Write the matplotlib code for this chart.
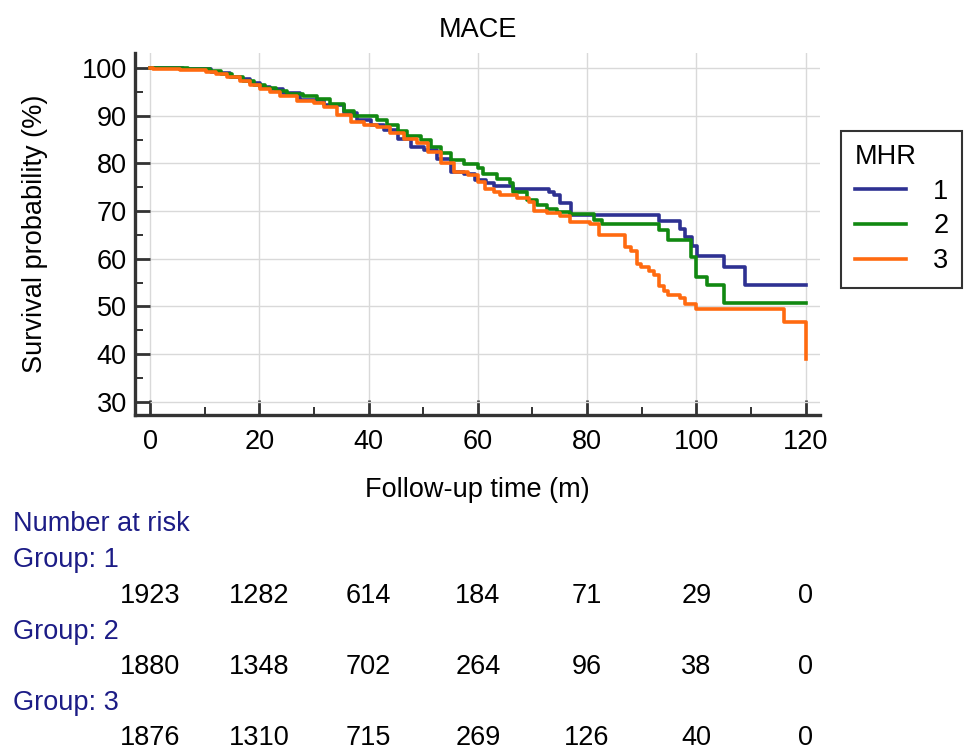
import numpy as np
import matplotlib
matplotlib.use("Agg")
import matplotlib.pyplot as plt
from matplotlib.ticker import MultipleLocator
from matplotlib.transforms import blended_transform_factory

plt.rcParams['font.family'] = ['Liberation Sans', 'DejaVu Sans']

# Kaplan-Meier steps (time in months, survival %)
t_g1 = [0, 6.0, 11.2, 12.8, 14.6, 16.4, 18.3, 20.1, 22.0, 24.4, 27.5, 31.8, 35.5, 37.9,
        40.4, 42.8, 45.3, 47.7, 50.2, 52.6, 55.1, 57.5, 59.5, 61.5, 63.0, 66.5, 73.0,
        74.0, 75.0, 77.1, 93.1, 97.1, 98.0, 99.3, 100.2, 105.1, 109.0, 120]
s_g1 = [100, 99.7, 99.2, 98.9, 98.2, 97.6, 96.8, 96.1, 95.5, 94.7, 93.4, 92.2, 90.5, 89.1,
        88.0, 87.0, 85.2, 83.5, 82.8, 81.0, 78.3, 77.8, 76.5, 75.8, 75.2, 74.7, 74.0,
        73.3, 71.7, 69.1, 68.0, 66.3, 64.6, 62.7, 60.6, 58.3, 54.6, 54.6]

t_g2 = [0, 7, 11, 13, 15, 17, 19, 21, 23, 25, 28, 30.5, 33.0, 35.5, 37.3, 41.6, 43.4,
        45.3, 47.1, 49.6, 51.4, 53.3, 55.1, 57.5, 60.0, 61.0, 63.5, 65.9, 66.5, 69.0,
        70.8, 72.7, 74.5, 76.9, 81.2, 82.8, 93.1, 94.9, 99.0, 99.9, 102.0, 105.1, 120]
s_g2 = [100, 99.7, 99.3, 98.8, 98.1, 97.3, 96.5, 95.8, 95.2, 94.6, 94.1, 93.6, 92.4, 91.0,
        89.9, 89.1, 88.0, 86.9, 85.7, 84.9, 83.5, 82.1, 80.7, 79.8, 79.0, 77.7, 76.8,
        75.8, 74.0, 72.3, 71.2, 70.5, 69.8, 69.4, 68.2, 67.2, 66.1, 64.0, 60.3, 56.1,
        54.6, 50.8, 50.8]

t_g3 = [0, 0.5, 5.4, 10.3, 12.1, 14.0, 16.4, 18.3, 20.1, 22.0, 23.8, 26.9, 30.0, 31.8,
        34.2, 36.7, 39.1, 41.6, 44.0, 46.5, 48.9, 50.8, 53.3, 55.7, 58.2, 60.0, 61.3,
        62.9, 64.1, 67.2, 69.3, 70.2, 72.7, 75.1, 76.9, 80.6, 82.1, 87.0, 88.0, 89.2,
        89.8, 91.3, 92.2, 93.1, 94.0, 94.9, 97.1, 98.0, 99.9, 116.1, 120, 120]
s_g3 = [100, 99.8, 99.6, 99.2, 98.7, 98.2, 97.3, 96.4, 95.5, 95.0, 94.1, 93.1, 92.7, 91.9,
        90.1, 88.7, 88.0, 87.6, 86.3, 85.2, 84.2, 82.4, 80.0, 78.3, 77.6, 76.2, 74.7,
        74.0, 73.3, 72.7, 71.9, 70.1, 69.6, 69.0, 67.7, 67.2, 64.9, 62.5, 61.7, 58.9,
        58.2, 57.5, 56.6, 54.3, 53.2, 52.5, 51.8, 50.6, 49.5, 46.7, 46.7, 39.0]

groups = ['1', '2', '3']
colors = ['#2E3192', '#118811', '#FF6A10']

risk_times = [0, 20, 40, 60, 80, 100, 120]
risk_g1 = [1923, 1282, 614, 184, 71, 29, 0]
risk_g2 = [1880, 1348, 702, 264, 96, 38, 0]
risk_g3 = [1876, 1310, 715, 269, 126, 40, 0]

fs = 19.5
fig = plt.figure(figsize=(9.65, 7.5), dpi=100)
ax = fig.add_axes([0.14, 0.447, 0.71, 0.482])

for t, s, c, g in zip([t_g1, t_g2, t_g3], [s_g1, s_g2, s_g3], colors, groups):
    ax.step(t, s, where='post', color=c, lw=2.6, label=g, zorder=3)

ax.set_xlim(-2.75, 122.7)
ax.set_ylim(27.3, 103.1)
ax.xaxis.set_major_locator(MultipleLocator(20))
ax.xaxis.set_minor_locator(MultipleLocator(10))
ax.yaxis.set_major_locator(MultipleLocator(10))
ax.yaxis.set_minor_locator(MultipleLocator(5))
ax.set_yticks(np.arange(30, 101, 10))
ax.grid(True, which='major', color='#d9d9d9', lw=1, zorder=0)
ax.tick_params(which='major', direction='in', length=11, width=2.0, color='#333333',
               labelsize=fs, pad=6)
ax.tick_params(axis='x', which='major', pad=10)
ax.tick_params(which='minor', direction='in', length=6, width=1.4, color='#333333')
for side in ['top', 'right']:
    ax.spines[side].set_visible(False)
for side in ['left', 'bottom']:
    ax.spines[side].set_linewidth(2.4)
    ax.spines[side].set_color('#333333')

ax.set_title('MACE', fontsize=fs, pad=12)
ax.set_xlabel('Follow-up time (m)', fontsize=fs, labelpad=16)
ax.set_ylabel('Survival probability (%)', fontsize=fs, labelpad=24)

leg = fig.legend(title='MHR', loc='upper right', bbox_to_anchor=(0.997, 0.826),
                 fontsize=fs, title_fontsize=fs, frameon=True, fancybox=False,
                 edgecolor='black', handlelength=1.9, alignment='left',
                 borderpad=0.5, labelspacing=0.32, handletextpad=1.0,
                 borderaxespad=0.0)
leg.get_frame().set_linewidth(1.5)

# number at risk table
navy = '#1C1C86'
fig.text(0.0135, 0.301, 'Number at risk', color=navy, fontsize=fs, va='center')
trans = blended_transform_factory(ax.transData, fig.transFigure)
rows = [risk_g1, risk_g2, risk_g3]
label_y = [0.253, 0.157, 0.063]
num_y = [0.205, 0.111, 0.016]
for g, vals, ly, ny in zip(groups, rows, label_y, num_y):
    fig.text(0.0135, ly, 'Group: ' + g, color=navy, fontsize=fs, va='center')
    for x, v in zip(risk_times, vals):
        ax.text(x, ny, str(v), transform=trans, ha='center', va='center',
                fontsize=fs, color='black')

fig.savefig('out.png', dpi=100)
